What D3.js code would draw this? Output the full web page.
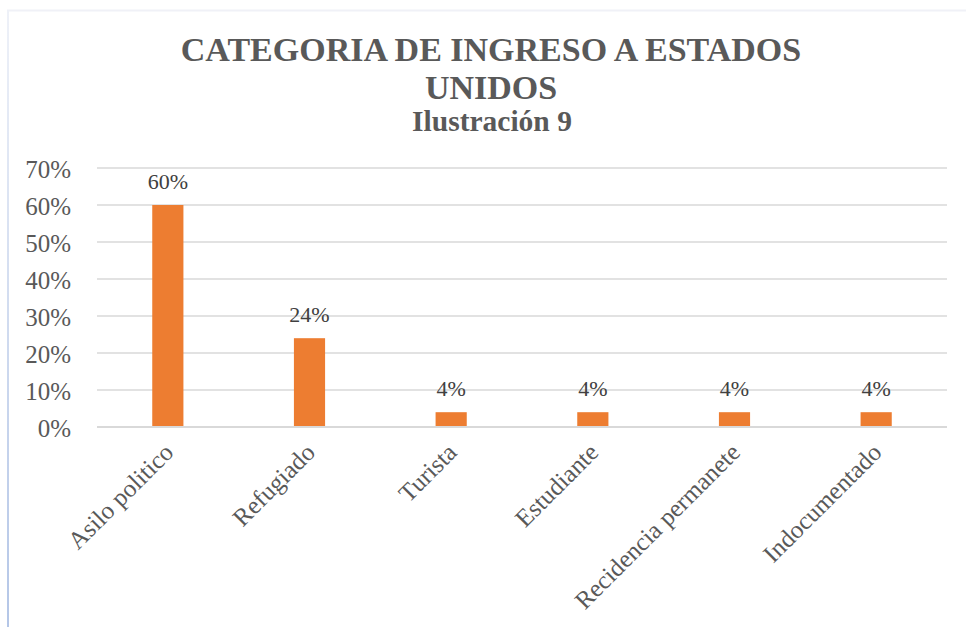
<!DOCTYPE html>
<html>
<head>
<meta charset="utf-8">
<script src="https://cdn.jsdelivr.net/npm/d3@7"></script>
<style>
  body { margin: 0; background: #fff; }
</style>
</head>
<body>
<div id="chart"></div>
<script>
  // data
  let categories = ["Asilo politico", "Refugiado", "Turista", "Estudiante", "Recidencia permanete", "Indocumentado"];
  let values = [0.60, 0.24, 0.04, 0.04, 0.04, 0.04];
  let yTicks = [0, 0.1, 0.2, 0.3, 0.4, 0.5, 0.6, 0.7];
  let titleLines = ["CATEGORIA DE INGRESO A ESTADOS", "UNIDOS"];
  let subtitle = "Ilustración 9";

  let serif = "Liberation Serif";
  let svgWidth = 966;
  let svgHeight = 627;
  let margin = { top: 168, right: 19, bottom: 200, left: 97 };
  let bodyWidth = 850;
  let bodyHeight = 259;

  let svg = d3.select("#chart")
              .append("svg")
              .attr("width", svgWidth)
              .attr("height", svgHeight)
              .attr("font-family", serif);

  // frame lines
  let grad = svg.append("defs").append("linearGradient")
                .attr("id", "leftEdge")
                .attr("x1", 0).attr("y1", 0).attr("x2", 0).attr("y2", 1);
  grad.append("stop").attr("offset", "0%").attr("stop-color", "#eef1f8");
  grad.append("stop").attr("offset", "100%").attr("stop-color", "#b4c6e7");

  svg.append("line")
     .attr("x1", 7).attr("x2", svgWidth).attr("y1", 10.5).attr("y2", 10.5)
     .attr("stroke", "#f0f1f7").attr("stroke-width", 2);
  svg.append("rect")
     .attr("x", 7).attr("y", 10).attr("width", 2).attr("height", svgHeight - 10)
     .attr("fill", "url(#leftEdge)");

  // titles
  let titleGroup = svg.append("g").attr("text-anchor", "middle").attr("fill", "#595959");
  titleGroup.selectAll("text.title")
            .data(titleLines)
            .enter()
              .append("text")
              .attr("class", "title")
              .attr("x", 491)
              .attr("y", (d, i) => 61 + i * 38)
              .attr("font-family", serif)
              .attr("font-size", "34px")
              .attr("font-weight", "bold")
              .text(d => d);
  titleGroup.append("text")
            .attr("x", 492)
            .attr("y", 131)
            .attr("font-family", serif)
            .attr("font-size", "29.5px")
            .attr("font-weight", "bold")
            .text(subtitle);

  let chartGroup = svg.append("g")
                      .attr("transform", `translate(${margin.left},${margin.top})`);

  // scales
  let xScale = d3.scaleBand()
                 .domain(categories)
                 .range([0, bodyWidth])
                 .paddingInner(0.78)
                 .paddingOuter(0.39);

  let yScale = d3.scaleLinear()
                 .domain([0, 0.7])
                 .range([bodyHeight, 0]);

  // gridlines
  chartGroup.append("g")
            .selectAll("line")
            .data(yTicks)
            .enter()
              .append("line")
              .attr("x1", 0)
              .attr("x2", bodyWidth)
              .attr("y1", d => yScale(d))
              .attr("y2", d => yScale(d))
              .attr("stroke", "#d9d9d9")
              .attr("stroke-width", 1.5);

  // left axis (labels only)
  let leftAxis = d3.axisLeft(yScale)
                   .tickValues(yTicks)
                   .tickFormat(d3.format(".0%"))
                   .tickSize(0)
                   .tickPadding(26);
  let yAxisG = chartGroup.append("g").call(leftAxis);
  yAxisG.attr("font-family", serif);
  yAxisG.select(".domain").remove();
  yAxisG.selectAll("text")
        .attr("font-family", serif)
        .attr("font-size", "25px")
        .attr("fill", "#595959")
        .attr("dy", "0.38em");

  // bars
  chartGroup.append("g")
            .selectAll("rect")
            .data(values)
            .enter()
              .append("rect")
              .attr("x", (d, i) => xScale(categories[i]))
              .attr("y", d => yScale(d))
              .attr("width", xScale.bandwidth())
              .attr("height", d => bodyHeight - yScale(d))
              .attr("fill", "#ed7d31");

  // bottom axis line
  chartGroup.append("line")
            .attr("x1", 0).attr("x2", bodyWidth)
            .attr("y1", bodyHeight).attr("y2", bodyHeight)
            .attr("stroke", "#d9d9d9")
            .attr("stroke-width", 2);

  // data labels
  chartGroup.append("g")
            .selectAll("text")
            .data(values)
            .enter()
              .append("text")
              .attr("x", (d, i) => xScale(categories[i]) + xScale.bandwidth() / 2)
              .attr("y", d => yScale(d) - 16)
              .attr("text-anchor", "middle")
              .attr("font-family", serif)
              .attr("font-size", "22px")
              .attr("fill", "#404040")
              .text(d => d3.format(".0%")(d));

  // category labels
  chartGroup.append("g")
            .selectAll("text")
            .data(categories)
            .enter()
              .append("text")
              .attr("transform", d => {
                  let cx = xScale(d) + xScale.bandwidth() / 2 + 7;
                  return `translate(${cx},${bodyHeight + 27}) rotate(-45)`;
              })
              .attr("text-anchor", "end")
              .attr("font-family", serif)
              .attr("font-size", "25px")
              .attr("fill", "#595959")
              .text(d => d);
</script>
</body>
</html>
